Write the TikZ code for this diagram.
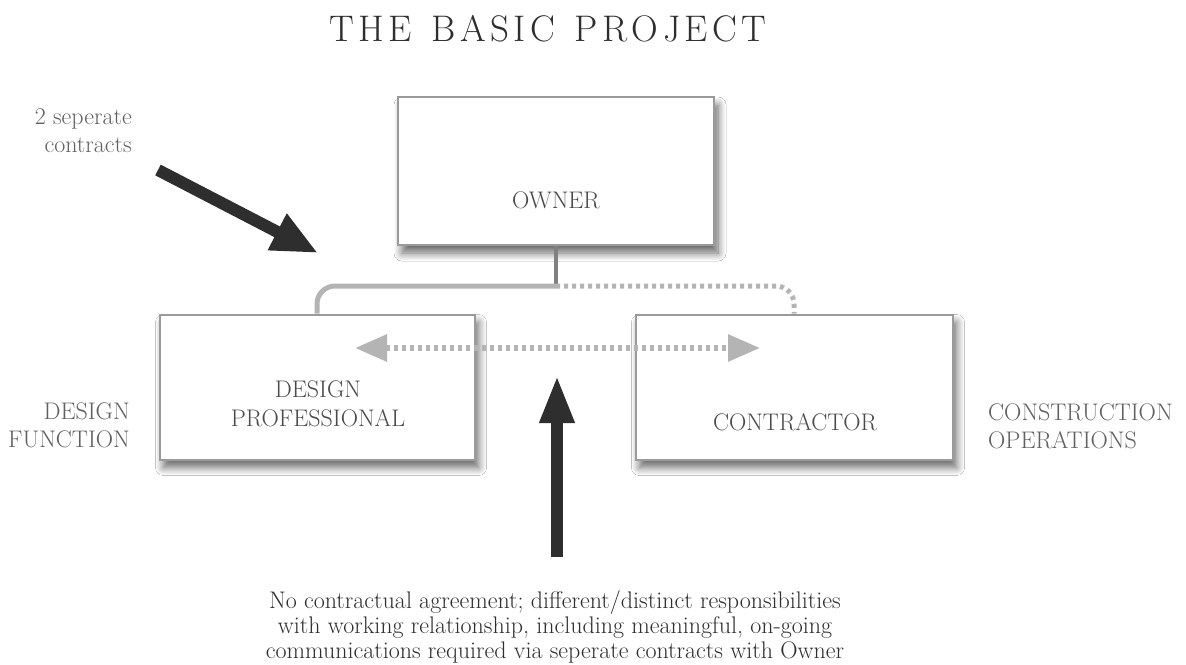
\documentclass[tikz,border=0pt]{standalone}
\usepackage{fontspec}
\usetikzlibrary{arrows.meta, shadows.blur}
\tikzset{>=stealth}
\definecolor{boxline}{HTML}{9A9A9A}
\definecolor{linkgray}{HTML}{B4B4B4}
\definecolor{inkgray}{HTML}{4A4A4A}
\definecolor{sidegray}{HTML}{606060}
\definecolor{darkink}{HTML}{2E2E2E}
% spread the letters of one word apart
\def\spreadword#1{\ifx#1\relax\else#1\kern4.5pt\expandafter\spreadword\fi}
\tikzset{
  party/.style={draw=boxline, line width=2pt, fill=white, inner sep=0pt,
    blur shadow={shadow xshift=4pt, shadow yshift=-8pt, shadow blur radius=8pt,
      shadow blur steps=10, shadow opacity=60}},
  partytext/.style={text=inkgray, font=\fontsize{24}{29}\selectfont, align=center, inner sep=0pt},
  sidelabel/.style={text=sidegray, font=\fontsize{24}{28}\selectfont, inner sep=0pt},
  link/.style={draw=linkgray, line width=5pt, rounded corners=18pt},
  dotlink/.style={link, dash pattern=on 4pt off 4pt},
  bigarrow/.style={draw=darkink, line width=12pt, -{Triangle[length=46pt,width=38pt]}},
}

\begin{document}
\begin{tikzpicture}[x=1pt, y=-1pt]
    \useasboundingbox[fill=white] (0,0) rectangle (1186,664);
    \node[text=darkink, font=\fontsize{37}{40}\selectfont] (title) at (548,29)
      {\spreadword THE\relax\hspace{15pt}\spreadword BASIC\relax\hspace{15pt}\spreadword PROJECT\relax\kern-4.5pt};
    \node[party, minimum width=316pt, minimum height=148pt] (owner) at (556,171) {};
    \node[party, minimum width=315pt, minimum height=145pt] (design) at (317,387) {};
    \node[party, minimum width=317pt, minimum height=145pt] (contractor) at (794,387) {};
    \node[partytext] (ownertxt) at ([yshift=-29pt]owner.center) {OWNER};
    \node[partytext] (designtxt) at ([xshift=1pt, yshift=-17pt]design.center) {DESIGN\\PROFESSIONAL};
    \node[partytext] (contractortxt) at ([xshift=1pt, yshift=-35pt]contractor.center) {CONTRACTOR};
    \node[sidelabel, anchor=east, align=right] (sep) at (132,131) {2 seperate\\contracts};
    \node[sidelabel, anchor=east, align=right] (dfunc) at (130,425) {DESIGN\\FUNCTION};
    \node[sidelabel, anchor=west, align=left] (cops) at (988,426) {CONSTRUCTION\\OPERATIONS};
    \node[text=darkink, font=\fontsize{24}{25}\selectfont, align=center, inner sep=0pt] (note) at (555,627)
      {No contractual agreement; different/distinct responsibilities\\
       with working relationship, including meaningful, on-going\\
       communications required via seperate contracts with Owner};
    \coordinate (junc) at (556,286);
    \draw[link, draw=gray, line width=4pt, rounded corners=0pt] (owner.south) -- (junc);
    \draw[link] (junc) -| (design.north);
    \draw[dotlink] (junc) -| (contractor.north);
    \draw[draw=linkgray, line width=6pt, dash pattern=on 4pt off 4pt,
      {Triangle[length=32pt,width=26pt]}-{Triangle[length=32pt,width=26pt]}]
      ([shift={(38,-39)}]design.center) -- ([shift={(-34,-39)}]contractor.center);
    \coordinate (septail) at (158,170);
    \coordinate (sepend) at (318,253);
    \draw[bigarrow] (septail) -- (sepend);
    \coordinate (notetail) at (557,557);
    \coordinate (noteend) at (557,375);
    \draw[bigarrow, line width=12pt, -{Triangle[length=48pt,width=32pt]}] (notetail) -- (noteend);
\end{tikzpicture}
\end{document}
